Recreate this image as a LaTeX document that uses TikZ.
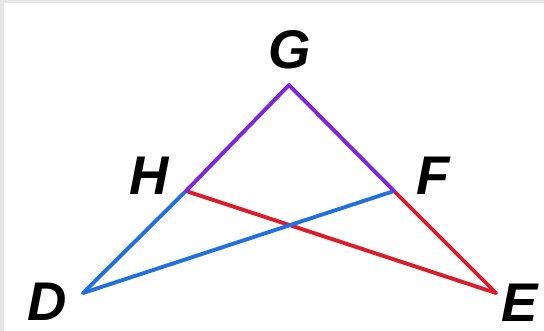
\documentclass[tikz,border=0pt]{standalone}
\usepackage{fontspec}
\setmainfont{Liberation Sans}
\definecolor{frame}{HTML}{E6E6E6}
\definecolor{segpurple}{HTML}{8024DD}
\definecolor{segblue}{HTML}{2070E0}
\definecolor{segred}{HTML}{DD1C2A}
\begin{document}
\begin{tikzpicture}[x=0.02cm,y=-0.02cm,
  seg/.style={line width=2.2pt,line cap=round,line join=round},
  lbl/.style={font=\fontsize{31}{33}\selectfont\bfseries\itshape,inner sep=0pt}]
\fill[frame] (0,0) rectangle (544,331);
\fill[white] (4,3) rectangle (544,331);
\useasboundingbox (0,0) rectangle (544,331);
\coordinate (G) at (289,85);
\coordinate (H) at (186,191);
\coordinate (F) at (394,191);
\coordinate (D) at (83,293);
\coordinate (E) at (496,293);
\draw[seg,segred] (H) -- (E);
\draw[seg,segred] (F) -- (E);
\draw[seg,segblue] (D) -- (H);
\draw[seg,segblue] (D) -- (F);
\draw[seg,segpurple] (H) -- (G) -- (F);
\node[lbl] (lG) at (290,50) {G};
\node[lbl] (lH) at (149,176) {H};
\node[lbl] (lF) at (433,176) {F};
\node[lbl] (lD) at (47,302) {D};
\node[lbl] (lE) at (520,303) {E};
\end{tikzpicture}
\end{document}
